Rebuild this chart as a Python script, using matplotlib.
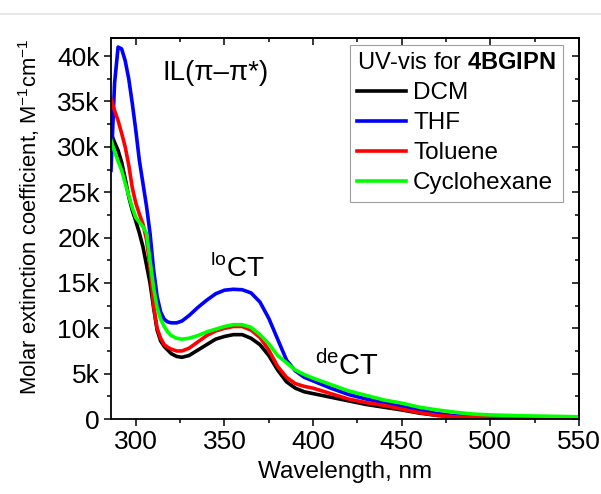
import matplotlib
matplotlib.use('Agg')
import matplotlib.pyplot as plt
from matplotlib.ticker import MultipleLocator, FuncFormatter
from matplotlib.lines import Line2D

plt.rcParams['font.family'] = ['Liberation Sans', 'DejaVu Sans']
plt.rcParams['mathtext.fontset'] = 'custom'
plt.rcParams['mathtext.rm'] = 'Liberation Sans'
plt.rcParams['mathtext.bf'] = 'Liberation Sans:bold'

# wavelength, nm
wl = [286, 288, 290, 292, 294, 296, 298, 300, 302, 304, 306, 308, 310, 312, 314,
      316, 318, 320, 323, 326, 330, 335, 340, 345, 350, 355, 360, 365, 370, 375,
      380, 385, 390, 395, 400, 410, 420, 430, 440, 450, 460, 470, 480, 490, 500,
      520, 550]

# molar extinction coefficient, thousands of M^-1 cm^-1
dcm = [31.5, 30.5, 29.6, 28.3, 26.5, 24.5, 23.0, 21.8, 20.5, 19.0, 17.0, 15.0, 12.3, 9.8, 8.6,
       8.0, 7.6, 7.2, 6.9, 6.8, 7.0, 7.6, 8.2, 8.8, 9.1, 9.3, 9.3, 8.9, 8.2, 7.0,
       5.4, 4.1, 3.4, 3.0, 2.8, 2.4, 2.0, 1.6, 1.3, 1.0, 0.65, 0.4, 0.25, 0.2, 0.18,
       0.15, 0.12]
thf = [27.4, 37.0, 41.0, 40.8, 39.5, 37.5, 34.8, 31.8, 28.5, 26.0, 23.5, 20.5, 16.5, 13.5, 11.8,
       11.0, 10.7, 10.6, 10.6, 10.8, 11.4, 12.3, 13.1, 13.8, 14.2, 14.3, 14.25, 13.9, 12.9, 11.1,
       8.8, 6.5, 5.3, 4.6, 4.2, 3.4, 2.7, 2.2, 1.8, 1.4, 1.0, 0.6, 0.35, 0.25, 0.2,
       0.15, 0.12]
toluene = [35.3, 34.0, 32.9, 31.5, 30.0, 28.0, 25.5, 23.8, 22.6, 21.5, 19.8, 16.8, 12.5, 10.0, 8.9,
           8.2, 7.9, 7.7, 7.5, 7.5, 7.8, 8.5, 9.2, 9.7, 10.0, 10.2, 10.2, 9.8, 9.0, 7.6,
           5.8, 4.6, 3.9, 3.6, 3.4, 2.8, 2.2, 1.8, 1.5, 1.1, 0.7, 0.4, 0.25, 0.2, 0.18,
           0.15, 0.12]
cyclohexane = [30.7, 29.5, 28.4, 27.4, 26.0, 24.6, 23.3, 22.2, 21.7, 21.2, 20.5, 17.5, 14.5, 12.3, 11.0,
               10.2, 9.6, 9.2, 8.9, 8.8, 8.9, 9.2, 9.6, 9.9, 10.2, 10.4, 10.4, 10.1, 9.3, 8.3,
               7.0, 6.2, 5.4, 4.9, 4.5, 3.8, 3.1, 2.6, 2.1, 1.75, 1.3, 1.0, 0.75, 0.55, 0.45,
               0.35, 0.25]

fig = plt.figure(figsize=(6.01, 4.94), dpi=100)
fig.add_artist(Line2D([0, 1], [0.9717, 0.9717], transform=fig.transFigure,
                      color='#e4e4e4', lw=1.2))
ax = fig.add_axes([0.1847, 0.1518, 0.7787, 0.7713])

ax.plot(wl, dcm, color='black', lw=2.6, label='DCM')
ax.plot(wl, thf, color='#0000ff', lw=2.6, label='THF')
ax.plot(wl, toluene, color='#ff0000', lw=2.6, label='Toluene')
ax.plot(wl, cyclohexane, color='#00ff00', lw=2.6, label='Cyclohexane')

ax.set_xlim(286, 550)
ax.set_ylim(0, 42)
ax.xaxis.set_major_locator(MultipleLocator(50))
ax.xaxis.set_minor_locator(MultipleLocator(25))
ax.yaxis.set_major_locator(MultipleLocator(5))
ax.yaxis.set_minor_locator(MultipleLocator(2.5))
ax.yaxis.set_major_formatter(FuncFormatter(lambda v, p: '0' if v == 0 else f'{v:g}k'))
ax.tick_params(which='major', direction='out', length=5, width=1.1, labelsize=19, pad=3)
ax.tick_params(which='minor', direction='out', length=3, width=1.1)
for s in ax.spines.values():
    s.set_linewidth(1.3)

top = ax.secondary_xaxis('top')
top.xaxis.set_major_locator(MultipleLocator(50))
top.xaxis.set_minor_locator(MultipleLocator(25))
top.tick_params(which='major', direction='in', length=5, width=1.1, labeltop=False)
top.tick_params(which='minor', direction='in', length=3, width=1.1)
right = ax.secondary_yaxis('right')
right.yaxis.set_major_locator(MultipleLocator(5))
right.yaxis.set_minor_locator(MultipleLocator(2.5))
right.tick_params(which='major', direction='in', length=5, width=1.1, labelright=False)
right.tick_params(which='minor', direction='in', length=3, width=1.1)
top.spines['top'].set_linewidth(1.3)
right.spines['right'].set_linewidth(1.3)

ax.set_xlabel('Wavelength, nm', fontsize=17.5, labelpad=5)
ax.set_ylabel(r'Molar extinction coefficient, M$^{-1}$cm$^{-1}$', fontsize=15.8)
ax.yaxis.set_label_coords(-0.148, 0.531)

ax.text(315.2, 38.1, 'IL(π–π*)', fontsize=20, ha='left', va='center')
ax.text(341.7, 16.6, r'$^{\mathrm{lo}}$CT', fontsize=20, ha='left', va='center')
ax.text(400.9, 5.9, r'$^{\mathrm{de}}$CT', fontsize=21, ha='left', va='center')

leg = ax.legend(title=r'UV-vis for $\mathbf{4BGIPN}$', loc='upper right',
                bbox_to_anchor=(0.966, 0.982), borderaxespad=0, fontsize=17.5,
                title_fontsize=17, fancybox=False, edgecolor='#a0a0a0',
                handlelength=2.0, handletextpad=0.3, labelspacing=0.33,
                borderpad=0.3, framealpha=1)
leg._legend_box.align = 'left'
leg.get_frame().set_linewidth(0.8)

fig.savefig('out.png', dpi=100)
